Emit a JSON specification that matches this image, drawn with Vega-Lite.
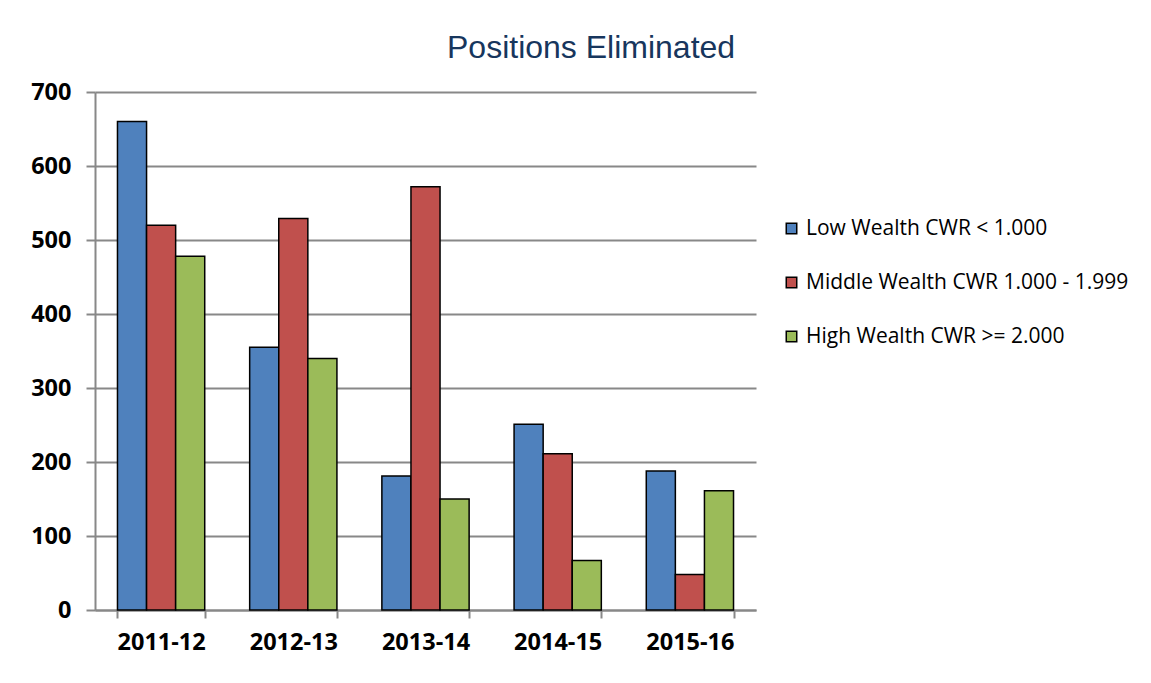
{
  "$schema": "https://vega.github.io/schema/vega-lite/v6.json",
  "width": 661,
  "height": 518,
  "autosize": {"type": "none"},
  "padding": {"left": 95, "top": 92, "right": 395, "bottom": 73},
  "background": "white",
  "title": {
    "text": "Positions Eliminated",
    "anchor": "start",
    "frame": "group",
    "dx": 352,
    "offset": -10,
    "baseline": "alphabetic",
    "font": "Liberation Sans",
    "fontSize": 32,
    "fontWeight": "normal",
    "color": "#17365D"
  },
  "data": {
    "values": [
      {"year": "2011-12", "series": "Low Wealth CWR < 1.000", "value": 660},
      {"year": "2011-12", "series": "Middle Wealth CWR 1.000 - 1.999", "value": 520},
      {"year": "2011-12", "series": "High Wealth CWR >= 2.000", "value": 478},
      {"year": "2012-13", "series": "Low Wealth CWR < 1.000", "value": 355},
      {"year": "2012-13", "series": "Middle Wealth CWR 1.000 - 1.999", "value": 529},
      {"year": "2012-13", "series": "High Wealth CWR >= 2.000", "value": 340},
      {"year": "2013-14", "series": "Low Wealth CWR < 1.000", "value": 181},
      {"year": "2013-14", "series": "Middle Wealth CWR 1.000 - 1.999", "value": 572},
      {"year": "2013-14", "series": "High Wealth CWR >= 2.000", "value": 150},
      {"year": "2014-15", "series": "Low Wealth CWR < 1.000", "value": 251},
      {"year": "2014-15", "series": "Middle Wealth CWR 1.000 - 1.999", "value": 211},
      {"year": "2014-15", "series": "High Wealth CWR >= 2.000", "value": 67},
      {"year": "2015-16", "series": "Low Wealth CWR < 1.000", "value": 188},
      {"year": "2015-16", "series": "Middle Wealth CWR 1.000 - 1.999", "value": 48},
      {"year": "2015-16", "series": "High Wealth CWR >= 2.000", "value": 161}
    ]
  },
  "mark": {"type": "bar", "stroke": "black", "strokeWidth": 1.5},
  "encoding": {
    "x": {
      "field": "year",
      "type": "nominal",
      "scale": {"paddingInner": 0.34, "paddingOuter": 0.17},
      "axis": {
        "title": null,
        "labelAngle": 0,
        "labelFont": "Open Sans",
        "labelFontWeight": "bold",
        "labelFontSize": 23.5,
        "labelColor": "black",
        "labelPadding": 12,
        "tickBand": "extent",
        "tickSize": 8,
        "tickColor": "#888888",
        "tickWidth": 2,
        "domainColor": "#888888",
        "domainWidth": 2
      }
    },
    "xOffset": {
      "field": "series",
      "type": "nominal",
      "sort": ["Low Wealth CWR < 1.000", "Middle Wealth CWR 1.000 - 1.999", "High Wealth CWR >= 2.000"],
      "scale": {"paddingInner": 0, "paddingOuter": 0}
    },
    "y": {
      "field": "value",
      "type": "quantitative",
      "scale": {"domain": [0, 700], "nice": false},
      "axis": {
        "title": null,
        "values": [0, 100, 200, 300, 400, 500, 600, 700],
        "labelFont": "Open Sans",
        "labelFontWeight": "bold",
        "labelFontSize": 23.5,
        "labelColor": "black",
        "labelPadding": 15,
        "tickSize": 9,
        "tickColor": "#888888",
        "tickWidth": 2,
        "domainColor": "#888888",
        "domainWidth": 2,
        "grid": true,
        "gridColor": "#888888",
        "gridWidth": 2
      }
    },
    "color": {
      "field": "series",
      "type": "nominal",
      "scale": {
        "domain": ["Low Wealth CWR < 1.000", "Middle Wealth CWR 1.000 - 1.999", "High Wealth CWR >= 2.000"],
        "range": ["#4F81BD", "#C0504D", "#9BBB59"]
      },
      "legend": {
        "title": null,
        "orient": "none",
        "legendX": 686,
        "legendY": 126,
        "symbolType": "square",
        "symbolSize": 110,
        "symbolStrokeColor": "black",
        "symbolStrokeWidth": 1.5,
        "labelFont": "Open Sans",
        "labelFontSize": 21,
        "labelColor": "black",
        "labelOffset": 4,
        "rowPadding": 32,
        "labelLimit": 400
      }
    }
  },
  "config": {
    "view": {"stroke": null}
  }
}
